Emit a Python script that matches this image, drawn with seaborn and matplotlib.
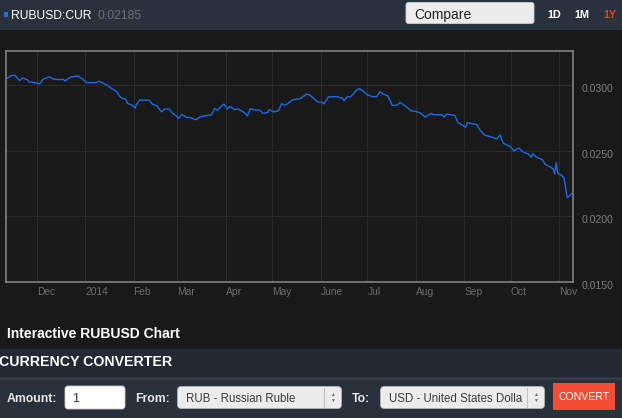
import pandas as pd
import matplotlib.pyplot as plt
import seaborn as sns
from matplotlib.patches import Rectangle, FancyBboxPatch
from matplotlib.transforms import ScaledTranslation

# RUB/USD rate
dates = [
    '2013-11-11', '2013-11-13', '2013-11-15', '2013-11-17', '2013-11-20', '2013-11-22',
    '2013-11-25', '2013-11-26', '2013-11-30', '2013-12-03', '2013-12-05', '2013-12-09',
    '2013-12-12', '2013-12-16', '2013-12-18', '2013-12-19', '2013-12-23', '2013-12-25',
    '2013-12-27', '2013-12-30', '2014-01-02', '2014-01-06', '2014-01-08', '2014-01-10',
    '2014-01-13', '2014-01-15', '2014-01-18', '2014-01-21', '2014-01-23', '2014-01-24',
    '2014-01-27', '2014-01-28', '2014-01-31', '2014-02-02', '2014-02-03', '2014-02-05',
    '2014-02-11', '2014-02-13', '2014-02-16', '2014-02-19', '2014-02-21', '2014-02-24',
    '2014-02-26', '2014-03-01', '2014-03-02', '2014-03-04', '2014-03-07', '2014-03-09',
    '2014-03-13', '2014-03-16', '2014-03-19', '2014-03-23', '2014-03-25', '2014-03-27',
    '2014-03-29', '2014-03-31', '2014-04-02', '2014-04-04', '2014-04-07', '2014-04-09',
    '2014-04-13', '2014-04-15', '2014-04-17', '2014-04-20', '2014-04-23', '2014-04-25',
    '2014-04-28', '2014-04-29', '2014-05-02', '2014-05-05', '2014-05-07', '2014-05-09',
    '2014-05-11', '2014-05-14', '2014-05-17', '2014-05-19', '2014-05-23', '2014-05-25',
    '2014-05-30', '2014-06-02', '2014-06-03', '2014-06-06', '2014-06-11', '2014-06-15',
    '2014-06-16', '2014-06-18', '2014-06-20', '2014-06-22', '2014-06-24', '2014-06-26',
    '2014-06-28', '2014-07-01', '2014-07-04', '2014-07-07', '2014-07-09', '2014-07-11',
    '2014-07-14', '2014-07-17', '2014-07-20', '2014-07-22', '2014-07-25', '2014-07-29',
    '2014-08-01', '2014-08-04', '2014-08-07', '2014-08-09', '2014-08-11', '2014-08-12',
    '2014-08-18', '2014-08-19', '2014-08-21', '2014-08-26', '2014-08-28', '2014-09-02',
    '2014-09-03', '2014-09-05', '2014-09-09', '2014-09-11', '2014-09-14', '2014-09-17',
    '2014-09-20', '2014-09-22', '2014-09-24', '2014-09-26', '2014-09-29', '2014-10-01',
    '2014-10-03', '2014-10-06', '2014-10-09', '2014-10-12', '2014-10-14', '2014-10-15',
    '2014-10-17', '2014-10-21', '2014-10-23', '2014-10-26', '2014-10-28', '2014-10-29',
    '2014-10-30', '2014-10-31', '2014-11-02', '2014-11-04', '2014-11-06', '2014-11-07',
    '2014-11-09',
]
rates = [
    0.03043, 0.03058, 0.03073, 0.03073, 0.03033, 0.03053,
    0.03038, 0.03023, 0.03017, 0.03008, 0.03043, 0.03061,
    0.03043, 0.03040, 0.03043, 0.03030, 0.03061, 0.03063,
    0.03070, 0.03048, 0.03017, 0.03017, 0.03017, 0.03028,
    0.03010, 0.02998, 0.02972, 0.02952, 0.02917, 0.02902,
    0.02892, 0.02861, 0.02846, 0.02823, 0.02854, 0.02884,
    0.02884, 0.02854, 0.02841, 0.02795, 0.02816, 0.02816,
    0.02783, 0.02760, 0.02745, 0.02775, 0.02752, 0.02752,
    0.02735, 0.02758, 0.02765, 0.02773, 0.02820, 0.02808,
    0.02836, 0.02854, 0.02816, 0.02836, 0.02811, 0.02816,
    0.02790, 0.02765, 0.02820, 0.02808, 0.02808, 0.02783,
    0.02790, 0.02811, 0.02795, 0.02803, 0.02858, 0.02846,
    0.02858, 0.02886, 0.02892, 0.02896, 0.02930, 0.02924,
    0.02871, 0.02866, 0.02856, 0.02909, 0.02911, 0.02899,
    0.02879, 0.02911, 0.02909, 0.02932, 0.02962, 0.02970,
    0.02955, 0.02924, 0.02911, 0.02911, 0.02949, 0.02930,
    0.02917, 0.02843, 0.02846, 0.02866, 0.02841, 0.02803,
    0.02798, 0.02786, 0.02755, 0.02770, 0.02783, 0.02773,
    0.02773, 0.02755, 0.02778, 0.02767, 0.02714, 0.02678,
    0.02714, 0.02707, 0.02699, 0.02659, 0.02619, 0.02608,
    0.02598, 0.02589, 0.02619, 0.02558, 0.02538, 0.02525,
    0.02498, 0.02520, 0.02487, 0.02475, 0.02449, 0.02477,
    0.02452, 0.02432, 0.02394, 0.02377, 0.02361, 0.02323,
    0.02407, 0.02326, 0.02316, 0.02293, 0.02142, 0.02149,
    0.02174,
]

month_ticks = ['2013-12-01', '2014-01-01', '2014-02-01', '2014-03-01', '2014-04-01', '2014-05-01',
               '2014-06-01', '2014-07-01', '2014-08-01', '2014-09-01', '2014-10-01', '2014-11-01']
month_labels = ['Dec', '2014', 'Feb', 'Mar', 'Apr', 'May', 'June', 'Jul', 'Aug', 'Sep', 'Oct', 'Nov']
rate_ticks = [0.015, 0.020, 0.025, 0.030]

symbol = 'RUBUSD:CUR'
last_price = '0.02185'
ranges = ['1D', '1M', '1Y']

sns.set_style('dark')
plt.rcParams['font.family'] = ['Liberation Sans', 'DejaVu Sans']

fig = plt.figure(figsize=(6.22, 4.18), dpi=100)
fig.patch.set_facecolor('#191919')

# page furniture in pixel coordinates
bg = fig.add_axes([0, 0, 1, 1])
bg.set_xlim(0, 622)
bg.set_ylim(418, 0)
bg.axis('off')

# header bar
bg.add_patch(Rectangle((0, 0), 622, 30, fc='#29323c', ec='none'))
bg.add_patch(Rectangle((4, 12.3), 4.4, 4.4, fc='#1f6fe5', ec='none'))
bg.text(11.5, 16, symbol, fontsize=8.7, color='white', va='center')
bg.text(98, 16, last_price, fontsize=8.7, color='#6b7279', va='center')
bg.add_patch(FancyBboxPatch((406, 2.5), 128, 21, boxstyle='round,pad=0,rounding_size=2.5',
                            fc='#ececec', ec='#cfcfcf', lw=0.6))
bg.text(414.5, 14.5, 'Compare', fontsize=10, color='#222222', va='center')
for x, lab, col in zip([547, 574, 603], ranges, ['white', 'white', '#e8412c']):
    bg.text(x, 15.5, lab, fontsize=7.8, weight='bold', color=col, va='center')

# chart caption
bg.text(7, 334, 'Interactive RUBUSD Chart', fontsize=10, weight='bold', color='white', va='center')

# currency converter
bg.add_patch(Rectangle((0, 349), 622, 29, fc='#232a33', ec='none'))
bg.add_patch(Rectangle((0, 379), 622, 39, fc='#29313b', ec='none'))
bg.plot([0, 622], [378.3, 378.3], color='#3f4852', lw=1)
bg.text(-1, 361.5, 'CURRENCY CONVERTER', fontsize=10.2, weight='bold', color='white', va='center')

bg.text(7, 399.5, 'Amount:', fontsize=8.8, weight='bold', color='#e8e8e8', va='center')
bg.add_patch(FancyBboxPatch((65, 386), 60, 23, boxstyle='round,pad=0,rounding_size=3',
                            fc='white', ec='#cccccc', lw=0.6))
bg.text(72, 398.5, '1', fontsize=9, color='#333333', va='center')

for lx, lab, bx, item in [(135, 'From:', 177.5, 'RUB - Russian Ruble'),
                          (352, 'To:', 380.5, 'USD - United States Dolla')]:
    bg.text(lx, 399.5, lab, fontsize=8.8, weight='bold', color='#e8e8e8', va='center')
    bg.add_patch(FancyBboxPatch((bx, 386.5), 164, 22, boxstyle='round,pad=0,rounding_size=4',
                                fc='#ececec', ec='#b5b5b5', lw=0.6))
    bg.plot([bx + 146.5, bx + 146.5], [388, 407], color='#c2c2c2', lw=0.8)
    bg.text(bx + 155, 394.5, '▲', fontsize=3.5, color='#666666', ha='center', va='center')
    bg.text(bx + 155, 400.5, '▼', fontsize=3.5, color='#666666', ha='center', va='center')
    bg.text(bx + 8.5, 398.5, item, fontsize=8.3, color='#3a3a3a', va='center')

bg.add_patch(Rectangle((553, 383), 62, 26.5, fc='#f44c34', ec='none'))
bg.text(584, 397, 'CONVERT', fontsize=7.6, color='white', ha='center', va='center')

# price chart
ax = fig.add_axes([5.6 / 622, (418 - 282) / 418, 567.2 / 622, 231 / 418])
ax.set_facecolor('#191919')
sns.lineplot(x=pd.to_datetime(dates), y=rates, ax=ax, color='#1a6de6', linewidth=1.0)

ax.set_xlim(pd.Timestamp('2013-11-11'), pd.Timestamp('2014-11-09 15:00'))
ax.set_ylim(0.015, 0.03258)
ax.set_xticks(pd.to_datetime(month_ticks))
ax.set_xticklabels(month_labels, ha='left')
ax.set_yticks(rate_ticks)
ax.set_yticklabels([f'{v:.4f}' for v in rate_ticks])
ax.yaxis.tick_right()
ax.tick_params(axis='x', length=0, pad=3.5, labelsize=7.4, labelcolor='#6c6c6c')
ax.tick_params(axis='y', length=0, pad=6, labelsize=7.6, labelcolor='#808080')
for lab in ax.get_yticklabels():
    lab.set_transform(lab.get_transform() + ScaledTranslation(0, -0.03, fig.dpi_scale_trans))
ax.grid(True, color='#2c2c2c', linewidth=0.75)
for s in ax.spines.values():
    s.set_visible(True)
    s.set_color('#8a8a8a')
    s.set_linewidth(1.1)
ax.set_xlabel('')
ax.set_ylabel('')

fig.savefig('out.png', dpi=100, facecolor=fig.get_facecolor())
